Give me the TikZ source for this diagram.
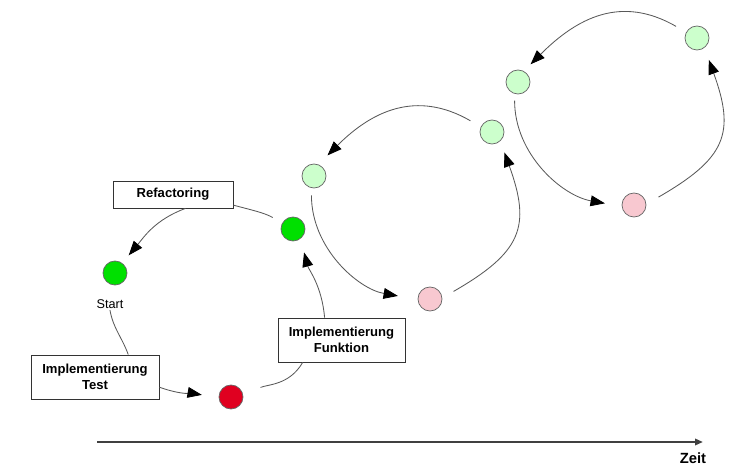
\documentclass[tikz,border=0pt]{standalone}
\usepackage{fontspec}
\setmainfont{Liberation Sans}
\usepackage{tikz}
\usepackage{xcolor}
\usetikzlibrary{arrows.meta}

\definecolor{donegreen}{HTML}{00E000}
\definecolor{failred}{HTML}{E00020}
\definecolor{palegreen}{HTML}{CCFFCC}
\definecolor{palered}{HTML}{F8C8D0}

\begin{document}
\begin{tikzpicture}[
  x=0.025cm, y=0.025cm,
  stepbox/.style={rectangle, draw=black!80, fill=white, line width=0.6pt, inner sep=0pt, align=center, font=\fontsize{9.3}{11.4}\selectfont\bfseries},
  dot/.style={circle, draw=black!60, line width=0.5pt, minimum size=0.6cm, inner sep=0pt},
  flow/.style={draw=black!65, line width=0.6pt, -{Triangle[length=0.36cm, width=0.27cm, color=black]}},
  link/.style={draw=black!65, line width=0.6pt},
  timeline/.style={draw=black!75, line width=1.4pt, -{Triangle[length=0.2cm, width=0.16cm]}}
]
  \useasboundingbox (0,0) rectangle (731,467);

  \node [dot, fill=donegreen] (start) at (115,194) {};
  \node [font=\fontsize{9}{11}\selectfont, inner sep=1pt] (startlbl) at (110,163) {Start};
  \node [dot, fill=failred]   (red)   at (231,70)  {};
  \node [dot, fill=donegreen] (g1)    at (293,238) {};

  \node [stepbox, minimum width=3cm, minimum height=0.675cm]   (refac)    at (173,272.5) {Refactoring};
  \node [stepbox, minimum width=3.2cm, minimum height=1.1cm]   (impltest) at (95,90)      {Implementierung\\Test};
  \node [stepbox, minimum width=3.175cm, minimum height=1.1cm] (implfunk) at (341.5,127)  {Implementierung\\Funktion};

  \node [dot, fill=palegreen] (c2a) at (314,291) {};
  \node [dot, fill=palegreen] (c2b) at (492,335) {};
  \node [dot, fill=palered]   (c2c) at (430,168) {};

  \node [dot, fill=palegreen] (c3a) at (518,385) {};
  \node [dot, fill=palegreen] (c3b) at (697,429) {};
  \node [dot, fill=palered]   (c3c) at (634,262) {};

  \draw [flow, shorten >=0.25cm] (refac.-48) to[out=200, in=50] (start.54);
  \draw [link] (startlbl.south) to[out=-80, in=110] (impltest.34.5);
  \draw [flow, shorten >=0.425cm] (impltest.-9) to[out=-20, in=170] (red.184);
  \draw [link, shorten <=0.475cm] (red.7) to[out=25, in=-120] (implfunk.-150);
  \draw [flow, shorten >=0.35cm] (implfunk.127) to[out=95, in=-75] (g1.-53);
  \draw [link, shorten <=0.275cm] (g1.151) to[out=150, in=-15] (refac.-10);

  \draw [flow, shorten <=0.3cm, shorten >=0.32cm] (c2b.155) to[out=150, in=45, looseness=1.15] (c2a.69);
  \draw [flow, shorten <=0.18cm, shorten >=0.5cm] (c2a.-102) to[out=-90, in=170] (c2c.182);
  \draw [flow, shorten <=0.325cm, shorten >=0.3cm] (c2c.5) to[out=30, in=-70, looseness=1.4] (c2b.-48);

  \draw [flow, shorten <=0.29cm, shorten >=0.24cm] (c3b.152) to[out=150, in=45, looseness=1.15] (c3a.62);
  \draw [flow, shorten <=0.17cm, shorten >=0.425cm] (c3a.-106) to[out=-90, in=170] (c3c.186);
  \draw [flow, shorten <=0.35cm, shorten >=0.32cm] (c3c.4) to[out=30, in=-70, looseness=1.4] (c3b.-53);

  \coordinate (t0) at (97,25);
  \coordinate (t1) at (703,25);
  \draw [timeline] (t0) -- (t1);
  \node [font=\fontsize{10.5}{12}\selectfont\bfseries] (zeit) at (693,9) {Zeit};
\end{tikzpicture}
\end{document}
